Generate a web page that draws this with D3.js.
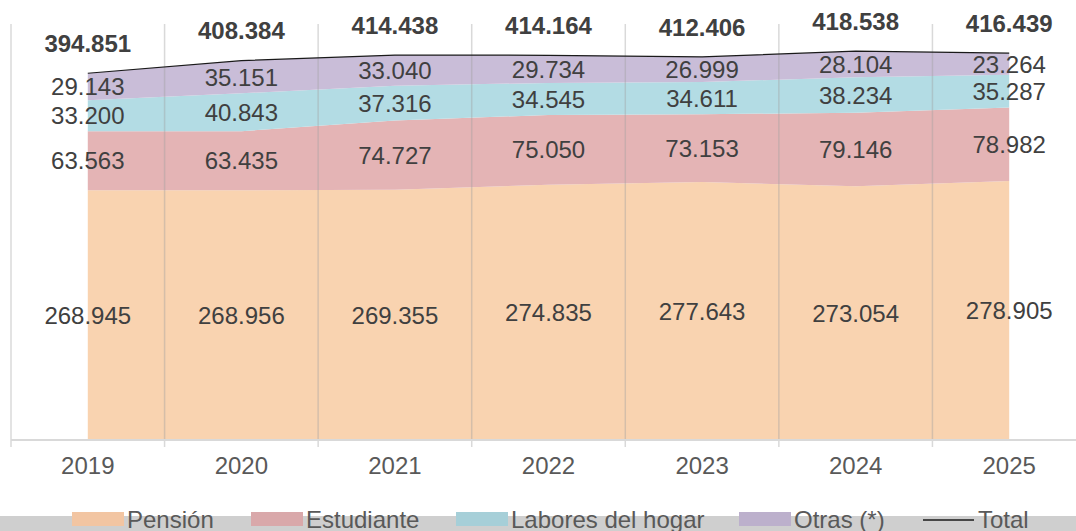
<!DOCTYPE html>
<html>
<head>
<meta charset="utf-8">
<script src="https://cdn.jsdelivr.net/npm/d3@7"></script>
<style>
  body { margin: 0; background: #fff; }
  svg { display: block; font-family: Arial, "Liberation Sans", sans-serif; }
  .lbl { font-size: 24px; fill: #404040; }
  .tot { font-size: 24px; font-weight: bold; fill: #404040; }
  .axis-lbl { font-size: 24px; fill: #595959; }
  .leg { font-size: 24px; fill: #595959; }
</style>
</head>
<body>
<svg id="chart" width="1076" height="531"></svg>
<script>
// data
const years = ["2019", "2020", "2021", "2022", "2023", "2024", "2025"];
const pension    = [268.945, 268.956, 269.355, 274.835, 277.643, 273.054, 278.905];
const estudiante = [63.563, 63.435, 74.727, 75.050, 73.153, 79.146, 78.982];
const labores    = [33.200, 40.843, 37.316, 34.545, 34.611, 38.234, 35.287];
const otras      = [29.143, 35.151, 33.040, 29.734, 26.999, 28.104, 23.264];
const totals     = [394.851, 408.384, 414.438, 414.164, 412.406, 418.538, 416.439];

const seriesNames = ["Pensión", "Estudiante", "Labores del hogar", "Otras (*)"];
const seriesValues = [pension, estudiante, labores, otras];
const areaColors = ["#f9d3b0", "#e4b4b5", "#b3dce4", "#c9bdd8"];
const swatchColors = ["#f2c5a2", "#d9a8aa", "#a6cfd8", "#bcb0cc"];

const fmt = v => v.toFixed(3);

const svg = d3.select("#chart");
const margin = {left: 11, right: -10, top: 22, bottom: 91};
const W = 1076, H = 531;
const baseY = H - margin.bottom; // 440

const x = d3.scaleBand().domain(years).range([margin.left, W - margin.right]);
const cx = d => x(d) + x.bandwidth() / 2;
const y = d3.scaleLinear().domain([0, 450]).range([baseY, margin.top]);

// build stacked table
const rows = years.map((yr, i) => {
  const r = {year: yr};
  seriesNames.forEach((n, k) => r[n] = seriesValues[k][i]);
  return r;
});
const stacked = d3.stack().keys(seriesNames)(rows);

// areas
const area = d3.area()
  .x(d => cx(d.data.year))
  .y0(d => y(d[0]))
  .y1(d => y(d[1]));

svg.append("g").selectAll("path")
  .data(stacked)
  .join("path")
  .attr("d", area)
  .attr("fill", (d, i) => areaColors[i]);

// vertical gridlines at category boundaries
const bounds = years.map(d => x(d));
svg.append("g").selectAll("line")
  .data(bounds)
  .join("line")
  .attr("x1", d => d).attr("x2", d => d)
  .attr("y1", 24).attr("y2", baseY)
  .attr("stroke", "#a0a0a0")
  .attr("stroke-opacity", 0.4)
  .attr("stroke-width", 1.5);

// total line
svg.append("path")
  .datum(totals)
  .attr("d", d3.line().x((d, i) => cx(years[i])).y(d => y(d)))
  .attr("fill", "none")
  .attr("stroke", "#1a1a1a")
  .attr("stroke-width", 1.2);

// x axis
const xAxis = svg.append("g")
  .attr("transform", `translate(0,${baseY})`)
  .call(d3.axisBottom(x).tickSize(0).tickPadding(17));
xAxis.select(".domain").attr("stroke", "#d9d9d9").attr("stroke-width", 2)
  .attr("d", `M${margin.left},0H${W}`);
xAxis.selectAll("text").attr("class", "axis-lbl").attr("font-size", null).attr("font-family", null);
svg.append("g").selectAll("line")
  .data(bounds)
  .join("line")
  .attr("x1", d => d).attr("x2", d => d)
  .attr("y1", baseY).attr("y2", baseY + 7)
  .attr("stroke", "#d9d9d9")
  .attr("stroke-width", 1.5);

// value labels centered in each band
stacked.forEach(s => {
  svg.append("g").selectAll("text")
    .data(s)
    .join("text")
    .attr("class", "lbl")
    .attr("x", d => cx(d.data.year))
    .attr("y", d => (y(d[0]) + y(d[1])) / 2)
    .attr("dy", "0.36em")
    .attr("text-anchor", "middle")
    .text(d => fmt(d[1] - d[0]));
});

// total labels
svg.append("g").selectAll("text")
  .data(totals)
  .join("text")
  .attr("class", "tot")
  .attr("x", (d, i) => cx(years[i]))
  .attr("y", d => y(d) - 30)
  .attr("dy", "0.36em")
  .attr("text-anchor", "middle")
  .text(fmt);

// legend
svg.append("rect")
  .attr("x", 0).attr("y", 516)
  .attr("width", W).attr("height", H - 516)
  .attr("fill", "#cfcfcf");

const legX = [72, 251, 456, 739];
const leg = svg.append("g");
seriesNames.forEach((n, i) => {
  leg.append("rect")
    .attr("x", legX[i]).attr("y", 512)
    .attr("width", 52).attr("height", 14)
    .attr("fill", swatchColors[i]);
  leg.append("text")
    .attr("class", "leg")
    .attr("x", legX[i] + 55).attr("y", 528)
    .text(n);
});
leg.append("line")
  .attr("x1", 923).attr("x2", 974)
  .attr("y1", 520).attr("y2", 520)
  .attr("stroke", "#1a1a1a").attr("stroke-width", 1.5);
leg.append("text")
  .attr("class", "leg")
  .attr("x", 978).attr("y", 528)
  .text("Total");
</script>
</body>
</html>
